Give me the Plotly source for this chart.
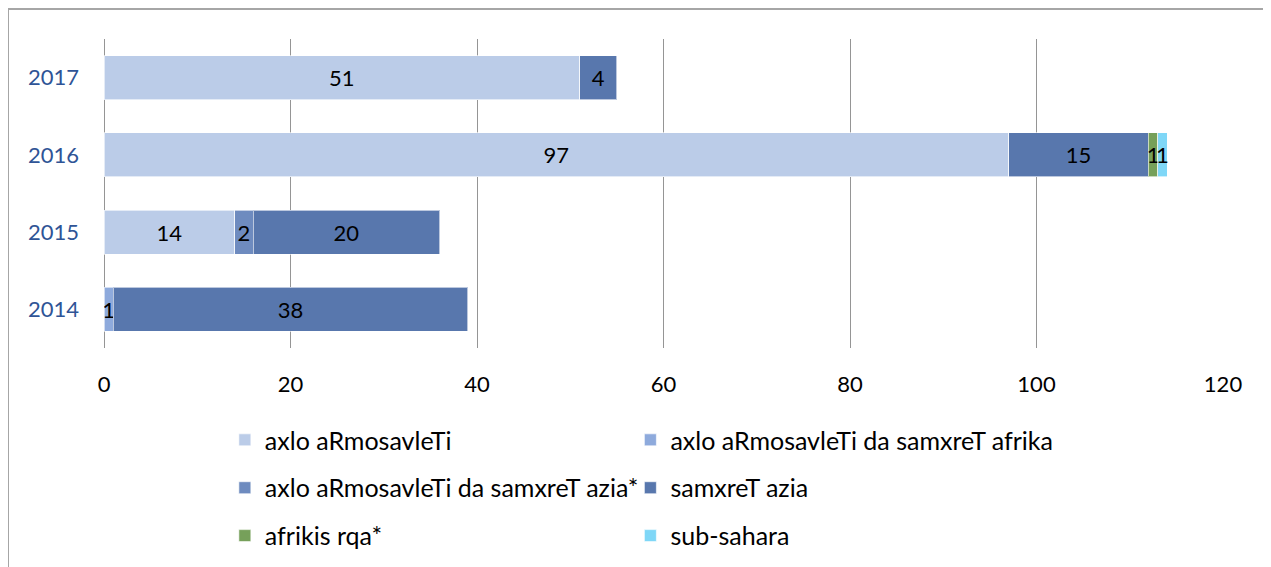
import plotly.graph_objects as go

years = ["2014", "2015", "2016", "2017"]

series_names = [
    "axlo aRmosavleTi",
    "axlo aRmosavleTi da samxreT afrika",
    "axlo aRmosavleTi da samxreT azia*",
    "samxreT azia",
    "afrikis rqa*",
    "sub-sahara",
]

axlo_armosavleti = [None, 14, 97, 51]
axlo_da_afrika = [1, None, None, None]
axlo_da_azia = [None, 2, None, None]
samxret_azia = [38, 20, 15, 4]
afrikis_rqa = [None, None, 1, None]
sub_sahara = [None, None, 1, None]

values = [axlo_armosavleti, axlo_da_afrika, axlo_da_azia, samxret_azia, afrikis_rqa, sub_sahara]
colors = ["#BBCCE8", "#8EAADC", "#6E8BBF", "#5877AD", "#76A05A", "#7FD7F7"]
legend_ids = ["legend", "legend2", "legend3", "legend4", "legend5", "legend6"]

x_ticks = [0, 20, 40, 60, 80, 100, 120]

FONT = "Lato"

fig = go.Figure()
for name, vals, col, lg in zip(series_names, values, colors, legend_ids):
    fig.add_trace(go.Bar(
        y=years, x=vals, name=name, orientation="h",
        marker=dict(color=col, line=dict(color="rgba(255,255,255,0.6)", width=1)),
        texttemplate="%{x}", textposition="inside", insidetextanchor="middle",
        textfont=dict(color="black", size=22, family=FONT),
        legend=lg, showlegend=True,
    ))

leg_common = dict(orientation="h", xanchor="left", yanchor="middle", traceorder="normal",
                  font=dict(size=25, family=FONT, color="black"),
                  bgcolor="rgba(0,0,0,0)", itemwidth=30, visible=True)

col_x = [0.108, 0.4704]
row_y = [-0.298, -0.453, -0.608]

legend_layout = {}
for i, lg in enumerate(legend_ids):
    legend_layout[lg] = dict(x=col_x[i % 2], y=row_y[i // 2], **leg_common)

fig.update_layout(
    showlegend=True,
    barmode="stack",
    bargap=0.43,
    width=1271, height=567,
    margin=dict(l=96, r=56, t=31, b=227),
    paper_bgcolor="white", plot_bgcolor="white",
    font=dict(family=FONT),
    uniformtext=dict(minsize=22, mode="show"),
    xaxis=dict(range=[0, 120], tickvals=x_ticks, showgrid=True, gridcolor="#959595",
               gridwidth=1, zeroline=True, zerolinecolor="#959595", zerolinewidth=1,
               showline=False, ticks="", tickfont=dict(size=22, family=FONT, color="black"),
               ticklabelstandoff=21, fixedrange=True),
    yaxis=dict(type="category", categoryorder="array", categoryarray=years,
               showgrid=False, zeroline=False, showline=False, ticks="",
               tickfont=dict(size=22, family=FONT, color="#2F5496"),
               ticklabelstandoff=24),
    shapes=[dict(type="rect", xref="paper", yref="paper",
                 x0=-0.0858, x1=1.5, y0=-1.5, y1=1.097,
                 line=dict(color="#A6A6A6", width=2), fillcolor="rgba(0,0,0,0)")],
    **legend_layout,
)

fig.write_html("out.html")
